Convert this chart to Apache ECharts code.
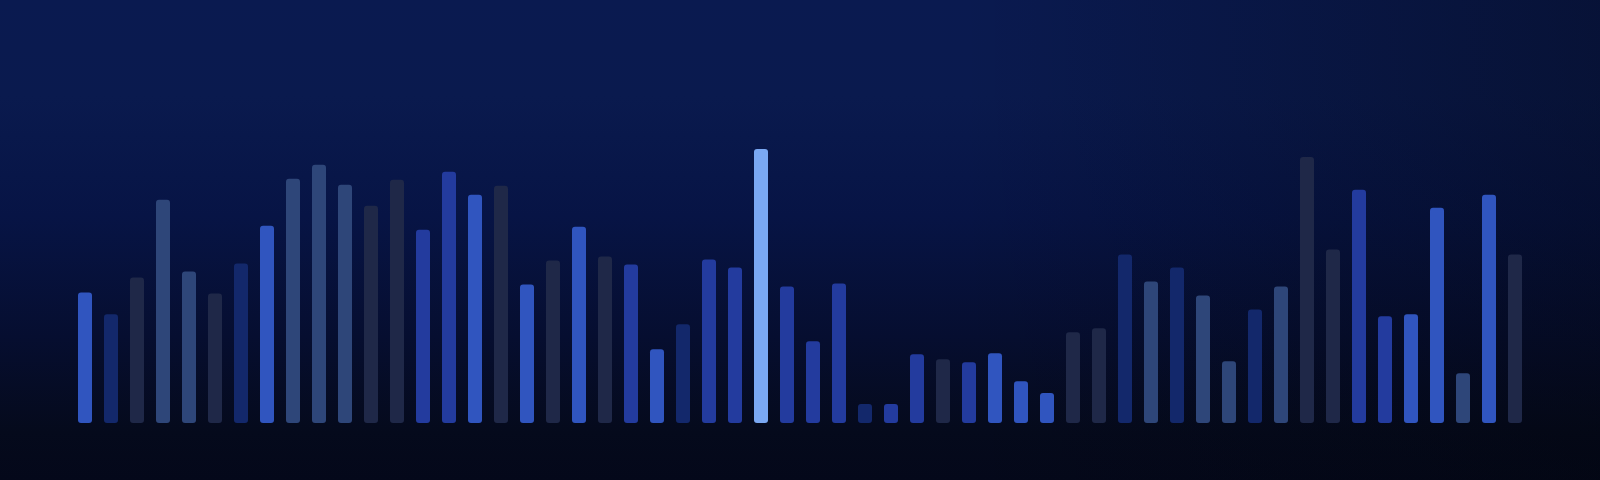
<!DOCTYPE html>
<html>
<head>
<meta charset="utf-8">
<script src="https://cdn.jsdelivr.net/npm/echarts@6/dist/echarts.min.js"></script>
<style>
html,body{margin:0;padding:0;width:1600px;height:480px;overflow:hidden;}
body{background:linear-gradient(180deg,#0a1a50 0%,#0a1a4e 20%,#071445 45%,#060e30 70%,#050a1c 90%,#04081a 100%);}
#bg2{position:absolute;left:0;top:0;width:1600px;height:480px;background:linear-gradient(90deg,rgba(0,0,0,0) 0%,rgba(0,0,0,0) 60%,rgba(2,4,10,0.35) 100%);}
#chart{position:absolute;left:0;top:0;width:1600px;height:480px;}
</style>
</head>
<body>
<div id="bg2"></div>
<div id="chart"></div>
<script>
// categories (bar index)
const categories = Array.from({length: 56}, (_, i) => String(i + 1));
// bar values
const values = [131,109,146,224,152,130,160,198,245,259,239,218,244,194,252,229,238,139,163,197,167,159,74,99,164,156,275,137,82,140,19,19,69,64,61,70,42,30,91,95,169,142,156,128,62,114,137,267,174,234,107,109,216,50,229,169];
// tone group of each bar
const tones = ['bright','navy','grey','slate','slate','grey','navy','bright','slate','slate','slate','grey','grey','medium','medium','bright','grey','bright','grey','bright','grey','medium','bright','navy','medium','medium','light','medium','medium','medium','navy','medium','medium','grey','medium','bright','bright','bright','grey','grey','navy','slate','navy','slate','slate','navy','slate','grey','grey','medium','medium','bright','bright','slate','bright','grey'];

const palette = {
  bright: '#3055bf',
  medium: '#233b9e',
  navy: '#13286b',
  slate: '#2e4679',
  grey: '#1f2848',
  light: '#7aa8f3'
};

const chart = echarts.init(document.getElementById('chart'), null, {renderer: 'canvas'});
chart.setOption({
  backgroundColor: 'transparent',
  animation: false,
  grid: {left: 72, right: 72, top: 124, bottom: 57},
  xAxis: {
    type: 'category',
    data: categories,
    boundaryGap: true,
    axisLine: {show: false},
    axisTick: {show: false},
    axisLabel: {show: false},
    splitLine: {show: false}
  },
  yAxis: {
    type: 'value',
    min: 0,
    max: 300,
    axisLine: {show: false},
    axisTick: {show: false},
    axisLabel: {show: false},
    splitLine: {show: false}
  },
  series: [{
    type: 'bar',
    barWidth: 14,
    data: values.map((v, i) => ({value: v, itemStyle: {color: palette[tones[i]]}})),
    itemStyle: {borderRadius: 3}
  }]
});
</script>
</body>
</html>
